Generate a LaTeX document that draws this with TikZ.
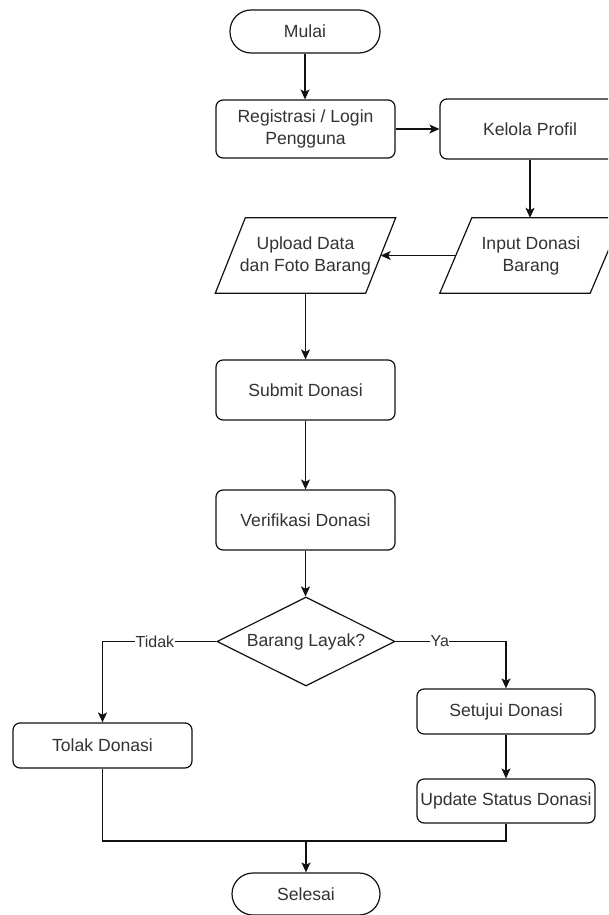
\documentclass[tikz,border=0pt]{standalone}
\usepackage{fontspec}
\setmainfont{Liberation Sans}
\usetikzlibrary{shapes.geometric,arrows.meta}
\definecolor{txt}{HTML}{333333}
\definecolor{ln}{HTML}{111111}
\tikzset{
  base/.style={draw=ln, line width=1.2pt, text=txt, font=\fontsize{17.6}{22}\selectfont, align=center, inner sep=0pt},
  procbox/.style={base, rectangle, rounded corners=7pt, minimum width=179pt, minimum height=#1},
  procbox/.default=60pt,
  termbox/.style={base, rectangle, rounded corners=21pt, minimum width=150pt, minimum height=43pt},
  iobox/.style={rectangle, text=txt, font=\fontsize{17.6}{22}\selectfont, align=center, inner sep=0pt, minimum width=150pt, minimum height=75pt},
  decbox/.style={base, diamond, aspect=2, minimum width=178pt, minimum height=89pt},
  conn/.style={draw=ln, line width=1.2pt},
  arr/.style={conn, -{Stealth[length=10pt,width=9pt,inset=2.5pt]}},
  lbl/.style={fill=white, text=txt, font=\fontsize{16}{19}\selectfont, inner sep=0.5pt}
}
\begin{document}
\begin{tikzpicture}[x=1pt,y=-1pt]
\useasboundingbox (0,0) rectangle (608,915);
\clip (0,0) rectangle (608,915);
\fill[white] (0,0) rectangle (608,915);

\node[termbox] (mulai) at (305,31.5) {Mulai};
\node[procbox=58pt] (reg) at (305.5,129) {Registrasi / Login\\Pengguna};
\node[procbox=60pt, minimum width=180pt] (kelola) at (530,129) {Kelola Profil};
\node[iobox] (input) at (531,255.5) {Input Donasi\\Barang};
\draw[conn] ([xshift=16pt]input.north west) -- ([xshift=16pt]input.north east) -- ([xshift=-16pt]input.south east) -- ([xshift=-16pt]input.south west) -- cycle;
\node[iobox] (upload) at (305.5,255.5) {Upload Data\\dan Foto Barang};
\draw[conn] ([xshift=15pt]upload.north west) -- ([xshift=15pt]upload.north east) -- ([xshift=-15pt]upload.south east) -- ([xshift=-15pt]upload.south west) -- cycle;
\node[procbox=60pt] (submit) at (305.5,390) {Submit Donasi};
\node[procbox=60pt] (verif) at (305.5,520) {Verifikasi Donasi};
\node[decbox] (layak) at (306,641.5) {Barang Layak?};
\node[procbox=45pt] (tolak) at (102.5,745.5) {Tolak Donasi};
\node[procbox=45pt, minimum width=178pt] (setuju) at (506,711.5) {Setujui Donasi};
\node[procbox=44pt, minimum width=178pt] (update) at (506,801) {Update Status Donasi};
\node[termbox, minimum width=148pt, minimum height=42pt] (selesai) at (306,894) {Selesai};
\coordinate (merge) at (306,841);

\draw[arr] (mulai.south) -- (mulai.south |- reg.north);
\draw[arr] (reg.east) -- (reg.east -| kelola.west);
\draw[arr] (kelola.south) -- (kelola.south |- input.north);
\draw[arr] (input.west) -- (upload.east);
\draw[arr] (upload.south) -- (upload.south |- submit.north);
\draw[arr] (submit.south) -- (verif.north);
\draw[arr] (verif.south) -- (verif.south |- layak.north);
\draw[arr] (layak.west) -| node[lbl, pos=0.27] {Tidak} (tolak.north);
\draw[arr] (layak.east) -| node[lbl, pos=0.2] {Ya} (setuju.north);
\draw[arr] (setuju.south) -- (update.north);
\draw[conn] (tolak.south) |- (merge);
\draw[conn] (update.south) |- (merge);
\draw[arr] (merge) -- (merge |- selesai.north);
\end{tikzpicture}
\end{document}
